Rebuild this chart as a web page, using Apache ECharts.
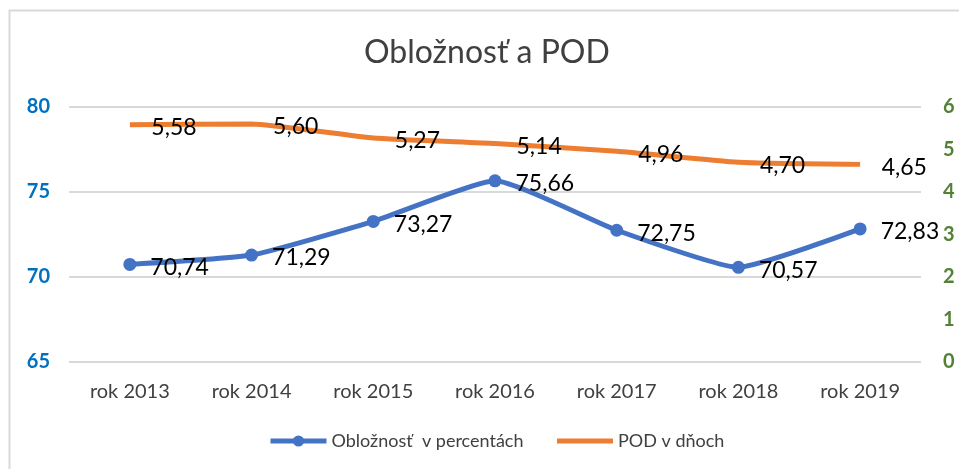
<!DOCTYPE html>
<html><head><meta charset="utf-8">
<script src="https://cdn.jsdelivr.net/npm/echarts@6/dist/echarts.min.js"></script>
<style>html,body{margin:0;padding:0;background:#fff}#c{width:959px;height:469px}</style>
</head><body><div id="c"></div>
<script>
const categories = ['rok 2013','rok 2014','rok 2015','rok 2016','rok 2017','rok 2018','rok 2019'];
const occupancy = [70.74, 71.29, 73.27, 75.66, 72.75, 70.57, 72.83];
const podDays = [5.58, 5.60, 5.27, 5.14, 4.96, 4.70, 4.65];
const leftTicks = [65, 80, 5];
const rightTicks = [0, 6, 1];
const FONT = 'Lato';
const fmt = p => p.value.toFixed(2).replace('.', ',');
const chart = echarts.init(document.getElementById('c'));
chart.setOption({
  animation: false,
  textStyle: {fontFamily: FONT},
  graphic: [{type:'rect', shape:{x:9.5,y:10.5,width:1000,height:500}, style:{fill:'none', stroke:'#d9d9d9', lineWidth:2}, silent:true}],
  title: {text:'Obložnosť a POD', left:359, top:32, textStyle:{fontFamily:FONT, fontSize:32, fontWeight:'normal', color:'#404040'}},
  legend: {bottom:14, left:263, itemWidth:56, itemHeight:14, itemGap:31,
    textStyle:{fontFamily:FONT, fontSize:18, color:'#404040'},
    lineStyle:{width:5},
    data:['Obložnosť  v percentách', 'POD v dňoch']},
  grid: {left:69, right:38, top:107, bottom:107},
  xAxis: {type:'category', data:categories, boundaryGap:true,
    axisLine:{show:false}, axisTick:{show:false},
    axisLabel:{fontFamily:FONT, fontSize:20, color:'#404040', margin:20}},
  yAxis: [
    {type:'value', min:leftTicks[0], max:leftTicks[1], interval:leftTicks[2],
     axisLine:{show:false}, axisTick:{show:false},
     axisLabel:{fontFamily:FONT, fontSize:20, fontWeight:'bold', color:'#0070C0', margin:19},
     splitLine:{lineStyle:{color:'#d9d9d9', width:2}}},
    {type:'value', min:rightTicks[0], max:rightTicks[1], interval:rightTicks[2], position:'right',
     axisLine:{show:false}, axisTick:{show:false},
     axisLabel:{fontFamily:FONT, fontSize:20, fontWeight:'bold', color:'#538135', margin:22},
     splitLine:{show:false}}
  ],
  series: [
    {name:'Obložnosť  v percentách', type:'line', yAxisIndex:0, data:occupancy, smooth:0.15,
     symbol:'circle', symbolSize:13, lineStyle:{color:'#4472C4', width:5}, itemStyle:{color:'#4472C4'},
     label:{show:true, position:'right', distance:14, offset:[0,3], formatter:fmt, fontFamily:FONT, fontSize:23, color:'#000'}},
    {name:'POD v dňoch', type:'line', yAxisIndex:1, data:podDays, smooth:0.15,
     symbol:'circle', symbolSize:1, showSymbol:true, lineStyle:{color:'#ED7D31', width:5}, itemStyle:{color:'rgba(237,125,49,0)', borderWidth:0},
     label:{show:true, position:'right', distance:21, offset:[0,3], formatter:fmt, fontFamily:FONT, fontSize:23, color:'#000'}}
  ]
});
</script></body></html>
